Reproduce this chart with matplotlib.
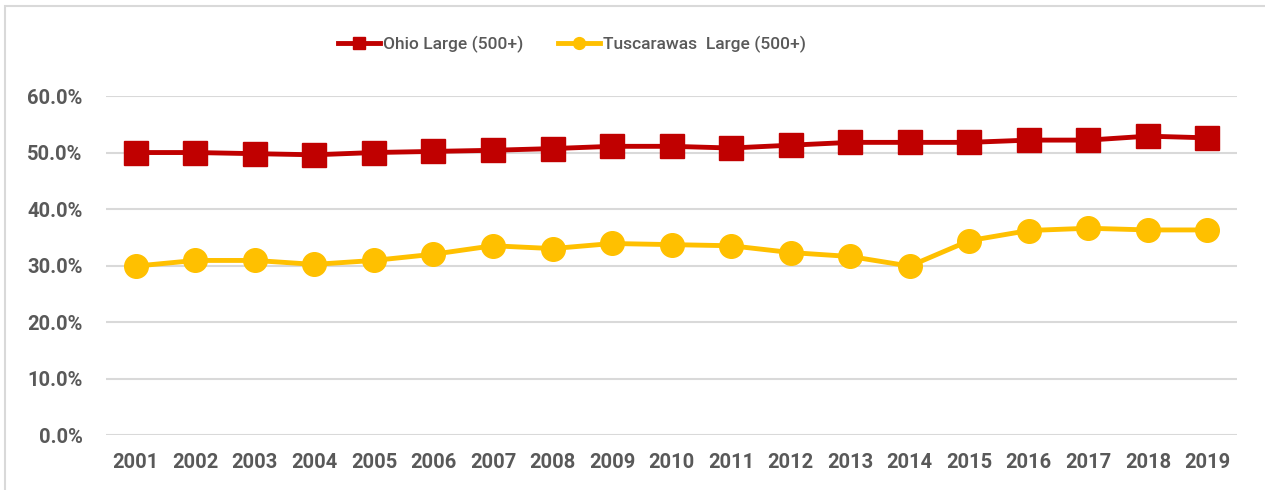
import numpy as np
import matplotlib
matplotlib.use('Agg')
import matplotlib.pyplot as plt
from matplotlib.patches import Rectangle
from matplotlib.ticker import FuncFormatter

plt.rcParams['font.family'] = ['Roboto', 'DejaVu Sans']

years = ['2001', '2002', '2003', '2004', '2005', '2006', '2007', '2008', '2009', '2010',
         '2011', '2012', '2013', '2014', '2015', '2016', '2017', '2018', '2019']
ohio = [50.0, 50.0, 49.8, 49.6, 50.0, 50.2, 50.4, 50.7, 51.1, 51.1,
        50.8, 51.3, 51.8, 51.8, 51.8, 52.2, 52.2, 52.9, 52.6]
tusc = [29.9, 30.9, 30.9, 30.2, 30.9, 32.0, 33.5, 33.0, 33.9, 33.7,
        33.5, 32.3, 31.6, 29.9, 34.4, 36.2, 36.6, 36.3, 36.3]
labels = ['Ohio Large (500+)', 'Tuscarawas  Large (500+)']

red = '#C00000'
gold = '#FFC000'
grey = '#595959'

fig = plt.figure(figsize=(12.65, 4.9), dpi=100)
ax = fig.add_axes([0.0838, 0.1122, 0.8942, 0.6918])

x = np.arange(len(years))
ax.plot(x, ohio, '-s', color=red, linewidth=3.5, markersize=17, label=labels[0])
ax.plot(x, tusc, '-o', color=gold, linewidth=3.5, markersize=17, label=labels[1])

ax.set_xlim(-0.5, len(years) - 0.5)
ax.set_ylim(0, 60)
ax.set_yticks(np.arange(0, 61, 10))
ax.yaxis.set_major_formatter(FuncFormatter(lambda v, p: '%.1f%%' % v))
ax.set_xticks(x)
ax.set_xticklabels(years)
ax.grid(axis='y', color='#D9D9D9', linewidth=1.5)
ax.set_axisbelow(True)
for s in ax.spines.values():
    s.set_visible(False)
ax.tick_params(length=0, labelsize=14.5, labelcolor=grey)
ax.tick_params(axis='x', pad=13)
ax.tick_params(axis='y', pad=17)
for t in ax.get_xticklabels() + ax.get_yticklabels():
    t.set_fontweight('bold')

leg = ax.legend(loc='lower center', bbox_to_anchor=(0.412, 1.08), ncol=2, frameon=False,
                fontsize=12.5, handlelength=2.4, handletextpad=0.2, columnspacing=2.0,
                markerscale=0.5)
for t in leg.get_texts():
    t.set_color(grey)
    t.set_fontweight('medium')

fig.patches.append(Rectangle((5 / 1265, -0.1), 1.2, 1 - 6 / 490 + 0.1,
                             transform=fig.transFigure, fill=False,
                             edgecolor='#D9D9D9', linewidth=1.5))

fig.savefig('out.png', dpi=100)
